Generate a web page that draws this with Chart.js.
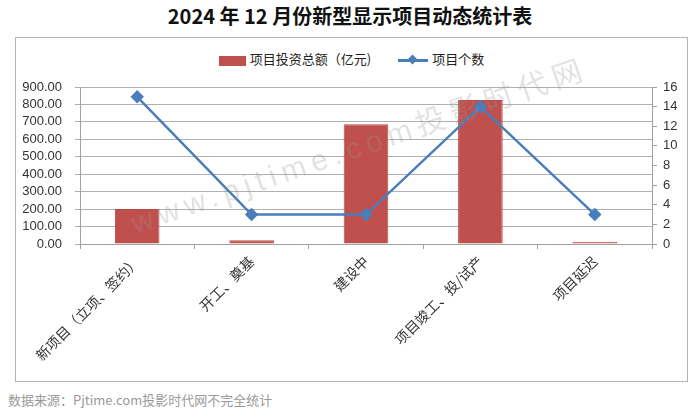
<!DOCTYPE html>
<html>
<head>
<meta charset="utf-8">
<script src="https://cdn.jsdelivr.net/npm/chart.js@4.4.1/dist/chart.umd.min.js"></script>
<style>
    body { margin: 0; width: 700px; height: 417px; background: #fff; position: relative; overflow: hidden; font-family: "Noto Sans CJK SC", sans-serif; }
    #title { position: absolute; left: 0; top: 3px; width: 700px; text-align: center; font-size: 20px; font-weight: bold; color: #111; line-height: 26px; }
    #box { position: absolute; left: 15px; top: 37px; width: 671px; height: 343px; border: 1px solid #b4b4b4; }
    #legend { position: absolute; left: 0; top: 11px; width: 671px; text-align: center; font-size: 13px; color: #222; line-height: 18px; }
    #legend .item { display: inline-block; margin: 0 12px; vertical-align: middle; }
    #legend .bar { display: inline-block; width: 27px; height: 10px; background: #c0504d; vertical-align: middle; margin-right: 4px; }
    #legend .line { display: inline-block; width: 30px; height: 3px; background: #4a7ebb; vertical-align: middle; margin-right: 4px; position: relative; }
    #legend .line::after { content: ""; position: absolute; left: 11px; top: -3px; width: 7px; height: 7px; background: #4a7ebb; transform: rotate(45deg); }
    #source { position: absolute; left: 8px; top: 390px; font-size: 13px; color: #9a9a9a; }
    canvas { position: absolute; left: 0; top: 0; }
</style>
</head>
<body>
<div id="title">2024 年 12 月份新型显示项目动态统计表</div>
<div id="box">
    <div id="legend">
        <span class="item"><span class="bar"></span>项目投资总额（亿元)</span>
        <span class="item"><span class="line"></span>项目个数</span>
    </div>
    <canvas id="chart" width="671" height="343"></canvas>
</div>
<div id="source">数据来源：Pjtime.com投影时代网不完全统计</div>

<script>
// chart data
const categories = ['新项目（立项、签约）', '开工、奠基', '建设中', '项目竣工、投/试产', '项目延迟'];
const investment = [200, 21, 687, 826, 13];   // 亿元
const projectCount = [15, 3, 3, 14, 3];
const leftTicks = [0, 100, 200, 300, 400, 500, 600, 700, 800, 900];
const rightTicks = [0, 2, 4, 6, 8, 10, 12, 14, 16];

const watermark = {
    id: 'watermark',
    afterDraw(chart) {
        const ctx = chart.ctx;
        ctx.save();
        ctx.translate(344, 110);
        ctx.rotate(-19 * Math.PI / 180);
        ctx.font = '30px "Liberation Sans", "Noto Sans CJK SC"';
        ctx.letterSpacing = '6px';
        ctx.fillStyle = 'rgba(150, 150, 150, 0.28)';
        ctx.textAlign = 'center';
        ctx.textBaseline = 'middle';
        ctx.fillText('www.pjtime.com投影时代网', 0, 0);
        ctx.restore();
    }
};

const tickFont = { family: '"Liberation Sans", sans-serif', size: 13 };

new Chart(document.getElementById('chart'), {
    type: 'bar',
    data: {
        labels: categories,
        datasets: [{
            type: 'line',
            label: '项目个数',
            data: projectCount,
            yAxisID: 'y1',
            borderColor: '#4a7ebb',
            backgroundColor: '#4a7ebb',
            borderWidth: 2.5,
            pointStyle: 'rectRot',
            pointRadius: 5,
            pointHoverRadius: 5,
            tension: 0,
            order: 0
        }, {
            type: 'bar',
            label: '项目投资总额（亿元)',
            data: investment,
            yAxisID: 'y',
            backgroundColor: '#c0504d',
            borderColor: '#b64844',
            borderWidth: 1,
            categoryPercentage: 1,
            barPercentage: 0.39,
            order: 1
        }]
    },
    options: {
        responsive: false,
        animation: false,
        layout: { padding: { top: 49, left: 0, right: 0, bottom: 0 } },
        plugins: {
            legend: { display: false },
            title: { display: false },
            tooltip: { enabled: false }
        },
        scales: {
            x: {
                grid: { offset: true, drawOnChartArea: false, tickLength: 5, color: '#a0a0a0' },
                border: { color: '#a0a0a0' },
                ticks: {
                    maxRotation: 45, minRotation: 45, padding: 4,
                    color: '#333',
                    font: { family: '"Noto Sans CJK SC", sans-serif', size: 14 }
                },
                afterFit(scale) { scale.height = 137; }
            },
            y: {
                position: 'left',
                min: 0, max: 900,
                afterBuildTicks(scale) { scale.ticks = leftTicks.map(v => ({ value: v })); },
                grid: { color: '#b0b0b0', tickLength: 5 },
                border: { color: '#a0a0a0' },
                ticks: { autoSkip: false, color: '#333', font: tickFont, padding: 13, callback: v => v.toFixed(2) },
                afterFit(scale) { scale.width = 64; }
            },
            y1: {
                position: 'right',
                min: 0, max: 16,
                afterBuildTicks(scale) { scale.ticks = rightTicks.map(v => ({ value: v })); },
                grid: { drawOnChartArea: false, tickLength: 5, color: '#a0a0a0' },
                border: { color: '#a0a0a0' },
                ticks: { autoSkip: false, color: '#333', font: tickFont, padding: 6 },
                afterFit(scale) { scale.width = 35; }
            }
        }
    },
    plugins: [watermark]
});
</script>
</body>
</html>
